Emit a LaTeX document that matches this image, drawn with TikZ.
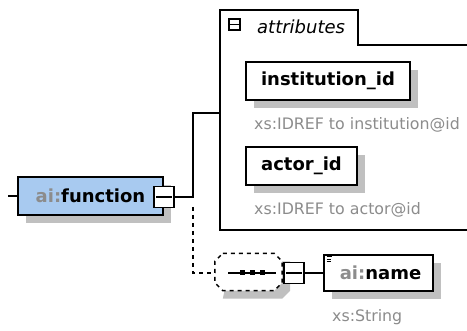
\documentclass[tikz,border=0pt]{standalone}
\usepackage{fontspec}
\setmainfont{DejaVu Sans}
\usetikzlibrary{shadows}
\definecolor{fnblue}{RGB}{168,202,240}
\definecolor{shgray}{RGB}{192,192,192}
\definecolor{txtgray}{RGB}{140,140,140}
\tikzset{
 elem/.style={draw=black, line width=1.8pt, fill=white, inner sep=0pt,
   font=\fontsize{18}{20}\selectfont\bfseries,
   general shadow={fill=shgray, shadow xshift=8pt, shadow yshift=-8pt}},
 minusbox/.style={draw=black, line width=1.6pt, fill=white, inner sep=0pt},
 conn/.style={line width=1.5pt},
 dconn/.style={line width=1.5pt, dash pattern=on 4pt off 4pt},
 note/.style={text=txtgray, font=\fontsize{15.8}{18}\selectfont, anchor=west, inner sep=0pt},
 dotsq/.style={fill=black, minimum size=5pt, inner sep=0pt},
}
\begin{document}
\begin{tikzpicture}[x=1pt,y=-1pt]
\useasboundingbox[fill=white] (0,0) rectangle (467,331);

% attributes frame
\draw[line width=1.6pt] (468,45) -- (358,45) -- (358,10) -- (220,10) -- (220,230) -- (468,230);
\node[minusbox, minimum width=11pt, minimum height=11pt] (tabminus) at (234.5,24.5) {};
\draw[line width=1.3pt] ([xshift=2pt]tabminus.west) -- ([xshift=-2pt]tabminus.east);
\node[anchor=west, inner sep=0pt, font=\fontsize{18}{20}\selectfont\itshape] (attrlabel) at (257,27) {attributes};
\coordinate (attrleft) at (220,113);

% function
\coordinate (stub) at (8,196);
\node[elem, fill=fnblue, minimum width=145pt, minimum height=38pt] (function) at (90.5,196) {{\color{txtgray}ai:}function};
\node[minusbox, minimum width=20pt, minimum height=21pt] (fminus) at (164,197) {};
\draw[line width=1.4pt] ([xshift=3pt]fminus.west) -- ([xshift=-3pt]fminus.east);
\draw[conn] (stub) -- (function.west);
\coordinate (jn) at (193,197);
\draw[conn] (fminus.east) -- (jn) |- (attrleft);

% attributes
\node[elem, minimum width=164pt, minimum height=38pt] (inst) at (328,81) {institution\_id};
\node[note] (instnote) at (254,125) {xs:IDREF to institution@id};
\node[elem, minimum width=111pt, minimum height=38pt] (actor) at (301.5,166) {actor\_id};
\node[note] (actornote) at (254,210) {xs:IDREF to actor@id};

% sequence compositor
\node[minimum width=67pt, minimum height=37pt, inner sep=0pt] (seq) at (248.5,272) {};
\fill[shgray] ([shift={(16,8)}]seq.north west) -- ([shift={(0,8)}]seq.north east) -- ([shift={(8,8)}]seq.north east) -- ([shift={(8,0)}]seq.south east) -- ([shift={(0,8)}]seq.south east) -- ([shift={(8,8)}]seq.south west) -- cycle;
\fill[white] ([xshift=8pt]seq.north west) -- ([xshift=-8pt]seq.north east) -- ([yshift=-8pt]seq.north east) -- ([yshift=8pt]seq.south east) -- ([xshift=-8pt]seq.south east) -- ([xshift=8pt]seq.south west) -- ([yshift=8pt]seq.south west) -- ([yshift=-8pt]seq.north west) -- cycle;
\draw[dconn] ([xshift=8pt]seq.north west) -- ([xshift=-8pt]seq.north east) -- ([yshift=-8pt]seq.north east) -- ([yshift=8pt]seq.south east) -- ([xshift=-8pt]seq.south east) -- ([xshift=8pt]seq.south west) -- ([yshift=8pt]seq.south west) -- ([yshift=-8pt]seq.north west) -- cycle;
\draw[line width=1.5pt] (228,273) -- (276,273);
\node[dotsq] (d1) at (242,273) {};
\node[dotsq] (d2) at (252,273) {};
\node[dotsq] (d3) at (262,273) {};
\coordinate (seqin) at (215,273);
\draw[dconn] ([yshift=-10pt]jn) |- (seqin);

\node[minusbox, minimum width=20pt, minimum height=21pt] (nminus) at (294,273) {};
\draw[line width=1.4pt] ([xshift=3pt]nminus.west) -- ([xshift=-3pt]nminus.east);

% ai:name
\node[elem, minimum width=109pt, minimum height=36pt] (name) at (378.5,273) {\hspace*{4pt}{\color{txtgray}ai:}name};
\draw[line width=1pt] (326.5,257) -- (332,257) (326.5,259.5) -- (331,259.5) (326.5,262) -- (331,262);
\draw[conn] (nminus.east) -- (name.west);
\node[note] (namenote) at (332,317) {xs:String};
\end{tikzpicture}
\end{document}
